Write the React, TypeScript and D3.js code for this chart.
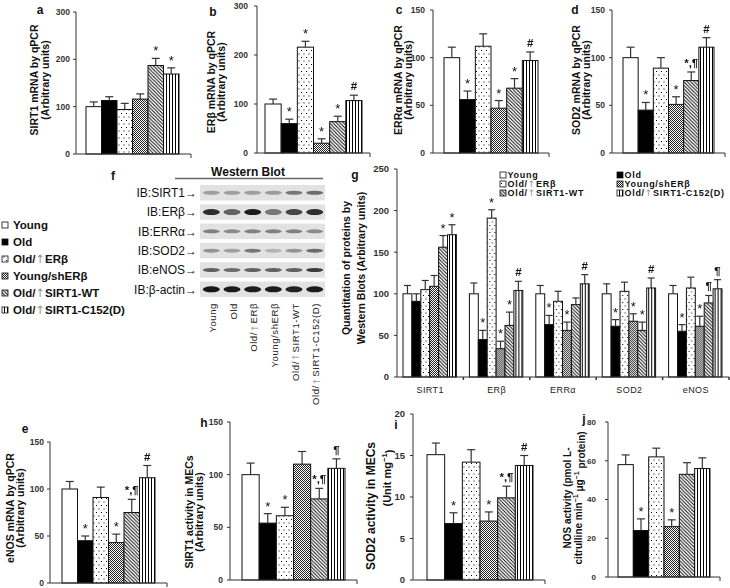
import React from "react";
import * as d3 from "d3";

const FONT = "'Liberation Sans', Arial, Helvetica, sans-serif";

const groups = ["Young", "Old", "Old/↑ERβ", "Young/shERβ", "Old/↑SIRT1-WT", "Old/↑SIRT1-C152(D)"];

// a: SIRT1 mRNA
const aMean = [100, 113, 94, 116, 187, 169];
const aSem = [10, 8, 13, 11, 15, 13];
const aSig = ["", "", "", "", "*", "*"];
// b: ERβ mRNA
const bMean = [100, 60, 216, 20, 64, 107];
const bSem = [10, 9, 12, 9, 11, 11];
const bSig = ["", "*", "*", "*", "*", "#"];
// c: ERRα mRNA
const cMean = [100, 56, 112, 47, 68, 97];
const cSem = [11, 9, 13, 8, 10, 9];
const cSig = ["", "*", "", "*", "*", "#"];
// d: SOD2 mRNA
const dMean = [100, 45, 89, 51, 76, 111];
const dSem = [11, 8, 11, 8, 9, 10];
const dSig = ["", "*", "", "*", "*,¶", "#"];
// e: eNOS mRNA
const eMean = [100, 45, 91, 43, 75, 112];
const eSem = [8, 5, 11, 9, 14, 13];
const eSig = ["", "*", "", "*", "*,¶", "#"];
// h: SIRT1 activity
const hMean = [100, 54, 61, 110, 77, 106];
const hSem = [11, 9, 8, 12, 10, 9];
const hSig = ["", "*", "*", "", "*,¶", "¶"];
// i: SOD2 activity
const iMean = [15.1, 6.8, 14.2, 7.1, 9.9, 13.8];
const iSem = [1.4, 1.3, 1.5, 1.1, 1.4, 1.2];
const iSig = ["", "*", "", "*", "*,¶", "#"];
// j: NOS activity
const jMean = [58, 24, 62, 26, 53, 56];
const jSem = [5, 6, 4.5, 3.5, 6, 5.5];
const jSig = ["", "*", "", "*", "", ""];

// g: Western blot quantitation (per group across proteins)
const proteins = ["SIRT1", "ERβ", "ERRα", "SOD2", "eNOS"];
const gMean = [
  [100, 100, 100, 100, 100],
  [91, 45, 63, 61, 55],
  [105, 191, 91, 103, 107],
  [109, 34, 56, 67, 61],
  [156, 62, 87, 56, 89],
  [171, 104, 112, 107, 106],
];
const gSem = [
  [10, 13, 10, 12, 10],
  [9, 11, 11, 8, 8],
  [11, 10, 12, 11, 13],
  [13, 9, 10, 9, 12],
  [14, 16, 8, 10, 9],
  [12, 11, 11, 12, 11],
];
const gSig = [
  ["", "", "", "", ""],
  ["", "*", "*", "*", "*"],
  ["", "*", "", "", ""],
  ["", "*", "*", "*", "*"],
  ["*", "*", "", "*", "¶"],
  ["*", "#", "#", "#", "¶"],
];

// f: western blot band intensities (0..1) per antibody per lane
const blotTargets = ["IB:SIRT1→", "IB:ERβ→", "IB:ERRα→", "IB:SOD2→", "IB:eNOS→", "IB:β-actin→"];
const blotIntensity = [
  [0.3, 0.3, 0.3, 0.32, 0.5, 0.55],
  [0.85, 0.6, 0.95, 0.5, 0.75, 0.85],
  [0.45, 0.4, 0.45, 0.45, 0.45, 0.4],
  [0.35, 0.3, 0.5, 0.2, 0.35, 0.55],
  [0.6, 0.55, 0.6, 0.6, 0.6, 0.8],
  [0.97, 0.95, 0.95, 0.95, 0.92, 0.95],
];

const fills = ["#ffffff", "#000000", "url(#pDots)", "url(#pCheck)", "url(#pDiag)", "url(#pVert)"];

function Arrowed({ label, arrowColor = "#999" }: { label: string; arrowColor?: string }) {
  const parts = label.split("↑");
  if (parts.length === 1) return <>{label}</>;
  return (
    <>
      {parts[0]}
      <tspan fill={arrowColor} fontFamily="'DejaVu Sans', sans-serif" fontWeight="normal">↑</tspan>
      {parts[1]}
    </>
  );
}

function Mark({ x, top, s }: { x: number; top: number; s: string }) {
  const isStar = s === "*";
  return (
    <text x={x} y={isStar ? top - 3 : top - 5} textAnchor="middle" fontSize={isStar ? 13 : 11.5} fontWeight={isStar ? "normal" : "bold"} fontFamily={FONT} fill="#111" filter="url(#gray)">
      {s}
    </text>
  );
}

type PanelProps = {
  axisX: number; yTop: number; y0: number; barStart: number; barEnd: number; xEnd: number;
  max: number; ticks: number[]; values: number[]; errs: number[]; sig: string[];
  tickFont?: number; tickGap?: number;
};

function Panel(p: PanelProps) {
  const y = d3.scaleLinear().domain([0, p.max]).range([p.y0, p.yTop]);
  const x = d3.scaleBand<number>().domain(d3.range(p.values.length)).range([p.barStart, p.barEnd]);
  const bw = x.bandwidth();
  const tf = p.tickFont ?? 8.5;
  const gap = p.tickGap ?? 6;
  return (
    <g>
      {p.values.map((v, i) => (
        <rect key={"b" + i} x={x(i)} y={y(v)} width={bw} height={y(0) - y(v)} fill={fills[i]} stroke="#111" strokeWidth={1} />
      ))}
      {p.values.map((v, i) => {
        const cx = (x(i) as number) + bw / 2;
        const top = y(v + p.errs[i]);
        return (
          <g key={"e" + i} stroke="#333" strokeWidth={1.2}>
            <line x1={cx} x2={cx} y1={y(v)} y2={top} />
            <line x1={cx - 4} x2={cx + 4} y1={top} y2={top} />
          </g>
        );
      })}
      {p.values.map((v, i) => {
        const s = p.sig[i];
        if (!s) return null;
        const cx = (x(i) as number) + bw / 2;
        return <Mark key={"s" + i} x={cx} top={y(v + p.errs[i])} s={s} />;
      })}
      <g stroke="#333" strokeWidth={1}>
        <line x1={p.axisX} x2={p.axisX} y1={p.y0} y2={p.yTop} />
        {p.ticks.map((t) => (
          <line key={"t" + t} x1={p.axisX - 3} x2={p.axisX} y1={y(t)} y2={y(t)} />
        ))}
        <line x1={p.axisX} x2={p.xEnd} y1={p.y0} y2={p.y0} />
        <line x1={p.xEnd} x2={p.xEnd} y1={p.y0} y2={p.y0 + 4} />
      </g>
      {p.ticks.map((t) => (
        <text key={"l" + t} x={p.axisX - gap} y={y(t)} dy="0.35em" textAnchor="end" fontSize={tf} fontWeight="bold" fontFamily={FONT} fill="#333">
          {t}
        </text>
      ))}
    </g>
  );
}

function VLabel({ x, y, size = 10.5, children }: { x: number; y: number; size?: number; children: React.ReactNode }) {
  return (
    <text transform={`translate(${x},${y}) rotate(-90)`} textAnchor="middle" dominantBaseline="central" fontSize={size} fontWeight="bold" fontFamily={FONT} fill="#111">
      {children}
    </text>
  );
}

function Letter({ x, y, t }: { x: number; y: number; t: string }) {
  return (
    <text x={x} y={y} dy="0.35em" textAnchor="middle" fontSize={12} fontWeight="bold" fontFamily={FONT} fill="#111">
      {t}
    </text>
  );
}

function Sup({ t }: { t: string }) {
  return (
    <tspan fontSize="0.7em" dy="-0.45em">{t}</tspan>
  );
}

function PanelG() {
  const axisX = 397, y0 = 377, yTop = 169, xEnd = 729;
  const y = d3.scaleLinear().domain([0, 250]).range([y0, yTop]);
  const x0 = d3.scaleBand<string>().domain(proteins).range([axisX, xEnd]);
  const x1 = d3.scaleBand<number>().domain(d3.range(groups.length)).range([6, x0.bandwidth() - 7]);
  const bw = x1.bandwidth();
  const ticks = [0, 50, 100, 150, 200, 250];
  return (
    <g>
      {proteins.map((pr, pi) => (
        <g key={pr} transform={`translate(${x0(pr)},0)`}>
          {groups.map((_, gi) => {
            const v = gMean[gi][pi];
            const e = gSem[gi][pi];
            const s = gSig[gi][pi];
            const bx = x1(gi) as number;
            const cx = bx + bw / 2;
            const top = y(v + e);
            return (
              <g key={gi}>
                <rect x={bx} y={y(v)} width={bw} height={y(0) - y(v)} fill={fills[gi]} stroke="#111" strokeWidth={1} />
                <g stroke="#333" strokeWidth={1.2}>
                  <line x1={cx} x2={cx} y1={y(v)} y2={top} />
                  <line x1={cx - 3.5} x2={cx + 3.5} y1={top} y2={top} />
                </g>
                {s && <Mark x={cx} top={top} s={s} />}
              </g>
            );
          })}
        </g>
      ))}
      <g stroke="#333" strokeWidth={1}>
        <line x1={axisX} x2={axisX} y1={y0} y2={yTop} />
        {ticks.map((t) => (
          <line key={t} x1={axisX - 3} x2={axisX} y1={y(t)} y2={y(t)} />
        ))}
        <line x1={axisX} x2={xEnd} y1={y0} y2={y0} />
        {proteins.map((pr) => (
          <line key={pr} x1={(x0(pr) as number) + x0.bandwidth()} x2={(x0(pr) as number) + x0.bandwidth()} y1={y0} y2={y0 + 3} strokeWidth={1.5} />
        ))}
      </g>
      {ticks.map((t) => (
        <text key={"l" + t} x={axisX - 8} y={y(t)} dy="0.35em" textAnchor="end" fontSize={9.5} fontWeight="bold" fontFamily={FONT} fill="#333">
          {t}
        </text>
      ))}
      {proteins.map((pr) => (
        <text key={"p" + pr} x={(x0(pr) as number) + x0.bandwidth() / 2} y={393} textAnchor="middle" fontSize={9} letterSpacing={0.4} fontFamily={FONT} fill="#222">
          {pr}
        </text>
      ))}
      {/* legend */}
      {groups.map((g, i) => {
        const col = i % 2;
        const row = Math.floor(i / 2);
        const lx = col === 0 ? 500 : 617;
        const ly = 175 + row * 9;
        return (
          <g key={"lg" + i}>
            <rect x={lx} y={ly - 3} width={6} height={6} fill={fills[i]} stroke="#111" strokeWidth={0.8} />
            <text x={lx + 7.5} y={ly} dy="0.36em" fontSize={9} letterSpacing={0.7} fontWeight="bold" fontFamily={FONT} fill="#111">
              <Arrowed label={g} />
            </text>
          </g>
        );
      })}
      <VLabel x={346} y={268} size={10.5}>Quantitation of proteins by</VLabel>
      <VLabel x={361} y={268} size={10.5}>Western Blots (Arbitrary units)</VLabel>
      <Letter x={355} y={175} t="g" />
    </g>
  );
}

function PanelF() {
  const lanes = d3.scaleBand<number>().domain(d3.range(groups.length)).range([201, 325]);
  const rowY = d3.scaleBand<number>().domain(d3.range(blotTargets.length)).range([185, 297]).paddingInner(0.2);
  const gray = d3.scaleLinear<string>().domain([0, 1]).range(["#dcdcdc", "#111111"]);
  return (
    <g>
      <Letter x={113} y={176} t="f" />
      <text x={248} y={172} dy="0.35em" textAnchor="middle" fontSize={12} fontWeight="bold" fontFamily={FONT} fill="#111">
        Western Blot
      </text>
      <line x1={175} x2={323} y1={178.5} y2={178.5} stroke="#666" strokeWidth={1.5} />
      {blotTargets.map((t, r) => {
        const ry = rowY(r) as number;
        const rh = rowY.bandwidth();
        const cy = ry + rh / 2;
        return (
          <g key={t}>
            <text x={197} y={cy} dy="0.36em" textAnchor="end" fontSize={12} fontFamily={FONT} fill="#111">
              {t}
            </text>
            <rect x={200} y={ry} width={125} height={rh} fill="#e2e2e2" />
            {blotIntensity[r].map((v, l) => {
              const lx = (lanes(l) as number) + lanes.bandwidth() / 2;
              const bh = r === 5 ? 5 : r === 1 ? 5 : 3;
              return (
                <ellipse key={l} cx={lx} cy={cy} rx={8.5} ry={bh / 2 + 0.5} fill={gray(v)} filter="url(#blur)" />
              );
            })}
          </g>
        );
      })}
      {groups.map((g, l) => {
        const lx = (lanes(l) as number) + lanes.bandwidth() / 2 + 1;
        return (
          <text key={g} transform={`translate(${lx},303) rotate(-90)`} textAnchor="end" dominantBaseline="central" fontSize={9.5} letterSpacing={0.6} fontFamily={FONT} fill="#222">
            <Arrowed label={g} arrowColor="#aaa" />
          </text>
        );
      })}
    </g>
  );
}

function LeftLegend() {
  return (
    <g>
      {groups.map((g, i) => {
        const cy = 225 + i * 17;
        return (
          <g key={g}>
            <rect x={2} y={cy - 3} width={6} height={6} fill={fills[i]} stroke="#111" strokeWidth={0.8} />
            <text x={13} y={cy} dy="0.36em" fontSize={11.5} fontWeight="bold" fontFamily={FONT} fill="#111">
              <Arrowed label={g} />
            </text>
          </g>
        );
      })}
    </g>
  );
}

export default function App() {
  return (
    <svg width={730} height={588} viewBox="0 0 730 588" style={{ position: "absolute", left: 0, top: 0, background: "#fff" }}>
      <defs>
        <pattern id="pDots" width={5} height={7} patternUnits="userSpaceOnUse">
          <rect width={5} height={7} fill="#fff" />
          <rect x={1} y={1} width={1} height={1} fill="#000" />
          <rect x={3.5} y={4.5} width={1} height={1} fill="#000" />
        </pattern>
        <pattern id="pCheck" width={2} height={2} patternUnits="userSpaceOnUse">
          <rect width={2} height={2} fill="#fff" />
          <rect x={0} y={0} width={1} height={1} fill="#222" />
          <rect x={1} y={1} width={1} height={1} fill="#222" />
        </pattern>
        <pattern id="pDiag" width={3.5} height={3.5} patternUnits="userSpaceOnUse">
          <rect width={3.5} height={3.5} fill="#fff" />
          <path d="M-1,-1 L4.5,4.5 M-1,2.5 L1,4.5 M2.5,-1 L4.5,1" stroke="#000" strokeWidth={0.9} />
        </pattern>
        <pattern id="pVert" width={3} height={3} patternUnits="userSpaceOnUse">
          <rect width={3} height={3} fill="#fff" />
          <line x1={1.5} x2={1.5} y1={0} y2={3} stroke="#000" strokeWidth={1} />
        </pattern>
        <filter id="blur" x="-20%" y="-100%" width="140%" height="300%">
          <feGaussianBlur stdDeviation={0.7} />
        </filter>
        <filter id="gray" x="-20%" y="-20%" width="140%" height="140%">
          <feColorMatrix type="saturate" values="0" />
        </filter>
      </defs>

      {/* a */}
      <Panel axisX={76} yTop={12} y0={154} barStart={86} barEnd={179} xEnd={191} max={300} ticks={[0, 100, 200, 300]} values={aMean} errs={aSem} sig={aSig} />
      <Letter x={40} y={10} t="a" />
      <VLabel x={34} y={80}>SIRT1 mRNA by qPCR</VLabel>
      <VLabel x={45} y={80}>(Arbitrary units)</VLabel>

      {/* b */}
      <Panel axisX={257} yTop={6} y0={153} barStart={265} barEnd={362} xEnd={370} max={300} ticks={[0, 100, 200, 300]} values={bMean} errs={bSem} sig={bSig} tickGap={9} />
      <Letter x={213} y={12} t="b" />
      <VLabel x={211} y={82}>ERβ mRNA by qPCR</VLabel>
      <VLabel x={221} y={82}>(Arbitrary units)</VLabel>

      {/* c */}
      <Panel axisX={433} yTop={10} y0={153} barStart={444} barEnd={538} xEnd={549} max={150} ticks={[0, 50, 100, 150]} values={cMean} errs={cSem} sig={cSig} tickGap={8} />
      <Letter x={399} y={10} t="c" />
      <VLabel x={398} y={80}>ERRα mRNA by qPCR</VLabel>
      <VLabel x={408} y={80}>(Arbitrary units)</VLabel>

      {/* d */}
      <Panel axisX={612} yTop={10} y0={153} barStart={623} barEnd={714} xEnd={725} max={150} ticks={[0, 50, 100, 150]} values={dMean} errs={dSem} sig={dSig} tickGap={7} />
      <Letter x={575} y={10} t="d" />
      <VLabel x={576} y={80}>SOD2 mRNA by qPCR</VLabel>
      <VLabel x={586} y={80}>(Arbitrary units)</VLabel>

      <LeftLegend />
      <PanelF />
      <PanelG />

      {/* e */}
      <Panel axisX={50} yTop={442} y0={583} barStart={62} barEnd={155} xEnd={167} max={150} ticks={[0, 50, 100, 150]} values={eMean} errs={eSem} sig={eSig} />
      <Letter x={25} y={429} t="e" />
      <VLabel x={10} y={508}>eNOS mRNA by qPCR</VLabel>
      <VLabel x={20} y={508}>(Arbitrary units)</VLabel>

      {/* h */}
      <Panel axisX={230} yTop={422} y0={580} barStart={242} barEnd={345} xEnd={357} max={150} ticks={[0, 50, 100, 150]} values={hMean} errs={hSem} sig={hSig} tickGap={7} />
      <Letter x={204} y={423} t="h" />
      <VLabel x={189} y={512}>SIRT1 activity in MECs</VLabel>
      <VLabel x={199} y={512}>(Arbitrary units)</VLabel>

      {/* i */}
      <Panel axisX={413} yTop={414} y0={580} barStart={427} barEnd={533} xEnd={545} max={20} ticks={[0, 5, 10, 15, 20]} values={iMean} errs={iSem} sig={iSig} tickFont={9.5} tickGap={8} />
      <Letter x={396} y={425} t="i" />
      <VLabel x={371} y={506} size={12}>SOD2 activity in MECs</VLabel>
      <VLabel x={387} y={478} size={11}>(Unit mg<Sup t="−1" /><tspan dy="0.45em">)</tspan></VLabel>

      {/* j */}
      <Panel axisX={608} yTop={422} y0={577} barStart={618} barEnd={710} xEnd={720} max={80} ticks={[0, 20, 40, 60, 80]} values={jMean} errs={jSem} sig={jSig} tickFont={8} tickGap={12} />
      <Letter x={584} y={419} t="j" />
      <VLabel x={567} y={498} size={10}>NOS activity (pmol L-</VLabel>
      <VLabel x={578} y={498} size={10}>
        citrulline min<Sup t="−1" /><tspan dy="0.45em"> μg</tspan><Sup t="−1" /><tspan dy="0.45em"> protein)</tspan>
      </VLabel>
    </svg>
  );
}
